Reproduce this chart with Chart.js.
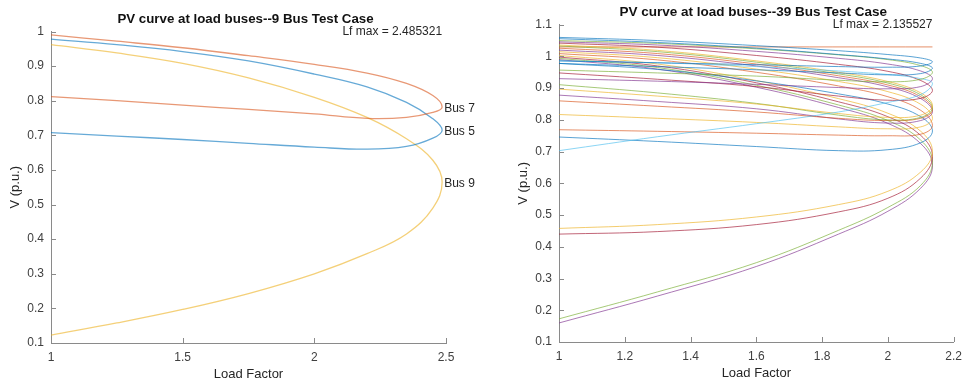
<!DOCTYPE html>
<html lang="en">
<head>
<meta charset="UTF-8">
<title>PV curves at load buses</title>
<script src="https://cdn.jsdelivr.net/npm/chart.js"></script>
<style>
  body { margin: 0; background: #fff; }
  #wrap { position: relative; width: 969px; height: 383px; }
  canvas { position: absolute; top: 0; }
</style>
</head>
<body>
<div id="wrap">
  <canvas id="bus9" width="480" height="383" style="left:0"></canvas>
  <canvas id="bus39" width="489" height="383" style="left:480px"></canvas>
</div>
<script>
// ---------- 9 bus test case ----------
// load factor path: upper branch out to the nose, lower branch back
const lf9 = [1, 1.25, 1.5, 1.75, 2, 2.2, 2.35, 2.45, 2.485321, 2.45, 2.35, 2.2, 2, 1.75, 1.5, 1.25, 1];
const lfMax9 = 2.485321;
const names9 = ["Bus 7", "Bus 5", "Bus 9"];
const vBus7 = [0.990, 0.972, 0.953, 0.930, 0.905, 0.880, 0.850, 0.815, 0.782, 0.766, 0.752, 0.749, 0.762, 0.775, 0.787, 0.800, 0.812];
const vBus5 = [0.978, 0.962, 0.942, 0.915, 0.877, 0.840, 0.795, 0.748, 0.715, 0.692, 0.668, 0.660, 0.666, 0.677, 0.688, 0.698, 0.708];
const vBus9 = [0.962, 0.938, 0.908, 0.866, 0.810, 0.752, 0.690, 0.628, 0.565, 0.490, 0.415, 0.358, 0.300, 0.243, 0.197, 0.158, 0.123];
const colors9 = ["217,83,25", "0,114,189", "237,177,32"];

// ---------- 39 bus test case ----------
const lf39 = [1, 1.3, 1.6, 1.85, 2.0, 2.1, 2.135527, 2.1, 2.0, 1.85, 1.6, 1.3, 1];
const lfMax39 = 2.135527;
const c01 = [1.060, 1.050, 1.034, 1.018, 1.006, 0.995, 0.983, 0.970, 0.966, 0.968, 0.974, 0.980, 0.986];
const c02 = [1.056, 1.044, 1.026, 1.006, 0.992, 0.978, 0.963, 0.946, 0.942, 0.948, 0.958, 0.968, 0.978];
const c03 = [1.050, 1.041, 1.024, 1.005, 0.990, 0.971, 0.950, 0.928, 0.920, 0.925, 0.938, 0.948, 0.957];
const c04 = [1.046, 1.036, 1.016, 0.994, 0.976, 0.954, 0.930, 0.905, 0.898, 0.902, 0.912, 0.922, 0.930];
const c05 = [0.986, 0.980, 0.968, 0.954, 0.943, 0.930, 0.915, 0.880, 0.855, 0.825, 0.788, 0.747, 0.703];
const c06 = [1.042, 1.029, 1.003, 0.975, 0.953, 0.924, 0.893, 0.868, 0.862, 0.875, 0.905, 0.928, 0.948];
const c07 = [1.036, 1.019, 0.986, 0.950, 0.921, 0.885, 0.845, 0.815, 0.808, 0.820, 0.850, 0.875, 0.897];
const c08 = [1.033, 1.015, 0.982, 0.945, 0.916, 0.879, 0.838, 0.808, 0.800, 0.815, 0.852, 0.885, 0.911];
const c09 = [1.026, 1.009, 0.976, 0.939, 0.910, 0.873, 0.832, 0.805, 0.798, 0.805, 0.825, 0.843, 0.860];
const c10 = [1.020, 1.003, 0.970, 0.933, 0.904, 0.867, 0.826, 0.798, 0.790, 0.803, 0.835, 0.858, 0.878];
const c11 = [1.015, 0.996, 0.960, 0.921, 0.889, 0.849, 0.805, 0.778, 0.772, 0.778, 0.792, 0.805, 0.817];
const c12 = [1.009, 0.989, 0.950, 0.907, 0.873, 0.830, 0.782, 0.755, 0.750, 0.752, 0.758, 0.764, 0.769];
const c13 = [0.978, 0.959, 0.923, 0.882, 0.850, 0.810, 0.765, 0.728, 0.706, 0.703, 0.716, 0.732, 0.746];
const c14 = [1.003, 0.976, 0.924, 0.867, 0.821, 0.764, 0.700, 0.636, 0.575, 0.533, 0.494, 0.470, 0.458];
const c15 = [0.998, 0.970, 0.917, 0.857, 0.810, 0.751, 0.685, 0.617, 0.553, 0.510, 0.470, 0.448, 0.440];
const c16 = [0.994, 0.965, 0.909, 0.847, 0.798, 0.736, 0.667, 0.594, 0.524, 0.452, 0.350, 0.258, 0.173];
const c17 = [0.990, 0.960, 0.903, 0.839, 0.789, 0.725, 0.655, 0.585, 0.512, 0.440, 0.338, 0.245, 0.160];
// regulated bus, stays flat
const lfFlat = [1, 2.135527];
const vFlat = [1.03, 1.03];

const blue = "0,114,189", orange = "217,83,25", yellow = "237,177,32", purple = "126,47,142",
      green = "119,172,48", cyan = "77,190,238", darkred = "162,20,47";
const curves39 = [c01, c02, c03, c04, c05, c06, c07, c08, c09, c10, c11, c12, c13, c14, c15, c16, c17];
const colors39 = [blue, blue, green, purple, cyan, darkred, yellow, green, orange, purple, yellow, orange, blue, yellow, darkred, green, purple];

const FONT = '"Liberation Sans", Arial, sans-serif';

function pts(xs, ys) {
  return xs.map((x, i) => ({ x: x, y: ys[i] }));
}

function line(xs, ys, rgb, alpha, w) {
  return {
    data: pts(xs, ys),
    showLine: true,
    borderColor: "rgba(" + rgb + "," + alpha + ")",
    borderWidth: w,
    pointRadius: 0,
    fill: false,
    tension: 0.4
  };
}

// titles, labels and the inward matlab-style ticks
const decor = {
  id: "decor",
  afterDraw(chart, args, o) {
    const ctx = chart.ctx, a = chart.chartArea, x = chart.scales.x, y = chart.scales.y;
    ctx.save();
    ctx.strokeStyle = "#8a8a8a";
    ctx.lineWidth = 1;
    ctx.beginPath();
    x.ticks.forEach(t => {
      const px = Math.round(x.getPixelForValue(t.value)) + 0.5;
      ctx.moveTo(px, a.bottom);
      ctx.lineTo(px, a.bottom - 5);
    });
    y.ticks.forEach(t => {
      const py = Math.round(y.getPixelForValue(t.value)) + 0.5;
      ctx.moveTo(a.left, py);
      ctx.lineTo(a.left + 5, py);
    });
    ctx.stroke();

    ctx.textBaseline = "middle";
    ctx.fillStyle = "#111";
    ctx.font = "bold " + o.titleSize + "px " + FONT;
    ctx.textAlign = "center";
    ctx.fillText(o.title, (a.left + a.right) / 2 - 3, a.top - 12);

    ctx.fillStyle = "#262626";
    ctx.font = "12px " + FONT;
    ctx.textAlign = "right";
    ctx.fillText("Lf max = " + o.lfMax.toFixed(6), x.getPixelForValue(o.lfMax), y.getPixelForValue(y.max));

    ctx.textAlign = "left";
    (o.labels || []).forEach(l => {
      ctx.fillText(l.text, x.getPixelForValue(o.lfMax) + 2, y.getPixelForValue(l.v) + 2);
    });

    ctx.font = "13px " + FONT;
    ctx.textAlign = "center";
    ctx.fillText("Load Factor", (a.left + a.right) / 2, a.bottom + 31);
    ctx.translate(a.left - 36, (a.top + a.bottom) / 2);
    ctx.rotate(-Math.PI / 2);
    ctx.fillText("V (p.u.)", 0, 0);
    ctx.restore();
  }
};

function makeChart(id, datasets, xr, yr, pad, yw, xh, deco) {
  const tickFont = { family: FONT, size: 12 };
  const fmt = v => String(Number(v.toFixed(2)));
  return new Chart(document.getElementById(id), {
    type: "scatter",
    data: { datasets: datasets },
    options: {
      responsive: false,
      animation: false,
      devicePixelRatio: 1,
      layout: { padding: pad },
      plugins: { legend: { display: false }, tooltip: { enabled: false }, decor: deco },
      scales: {
        x: {
          type: "linear", min: xr[0], max: xr[1],
          ticks: { stepSize: xr[2], padding: 7, font: tickFont, color: "#404040", callback: fmt, maxRotation: 0, autoSkip: false },
          grid: { drawOnChartArea: false, drawTicks: false },
          border: { color: "#8a8a8a" },
          afterFit: s => { s.height = xh; }
        },
        y: {
          type: "linear", min: yr[0], max: yr[1],
          ticks: { stepSize: yr[2], padding: 7, font: tickFont, color: "#404040", callback: fmt, autoSkip: false },
          grid: { drawOnChartArea: false, drawTicks: false },
          border: { color: "#8a8a8a" },
          afterFit: s => { s.width = yw; }
        }
      }
    },
    plugins: [decor]
  });
}

const ds9 = [vBus7, vBus5, vBus9].map((v, i) => line(lf9, v, colors9[i], 0.6, 1.3));
makeChart("bus9", ds9, [1, 2.5, 0.5], [0.1, 1, 0.1],
  { left: 0, right: 34, top: 31.5, bottom: 0 }, 51, 40,
  {
    title: "PV curve at load buses--9 Bus Test Case",
    titleSize: 13.3,
    lfMax: lfMax9,
    labels: names9.map((n, i) => ({ text: n, v: [vBus7, vBus5, vBus9][i][8] }))
  });

const ds39 = curves39.map((v, i) => line(lf39, v, colors39[i], 0.65, 1));
ds39.push(line(lfFlat, vFlat, orange, 0.65, 1));
makeChart("bus39", ds39, [1, 2.2, 0.2], [0.1, 1.1, 0.1],
  { left: 0, right: 9, top: 24.7, bottom: 0 }, 79, 41,
  { title: "PV curve at load buses--39 Bus Test Case", titleSize: 13.5, lfMax: lfMax39 });
</script>
</body>
</html>
